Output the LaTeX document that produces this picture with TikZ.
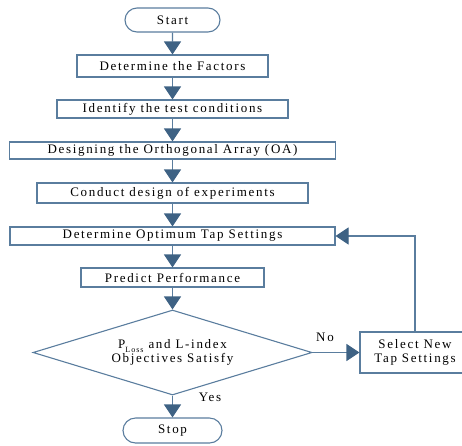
\documentclass[tikz,border=0pt]{standalone}
\usepackage{fontspec}
\setmainfont{Liberation Serif}[LetterSpace=13]
\usetikzlibrary{arrows.meta,shapes.geometric,shapes.misc}
\definecolor{bline}{HTML}{5A7D9E}
\definecolor{bhead}{HTML}{3E6284}
\begin{document}
\begin{tikzpicture}[x=1pt,y=-1pt,
  txt/.style={font=\fontsize{13}{14}\selectfont},
  box/.style={txt,draw=bline,line width=1.1pt,rectangle,inner sep=0pt},
  term/.style={txt,draw=bline,line width=1.1pt,rounded rectangle,inner sep=0pt},
  dec/.style={txt,draw=bline,line width=1.1pt,diamond,inner sep=0pt,align=center},
  flow/.style={draw=bline,line width=1.1pt,-{Triangle[width=17pt,length=13pt,fill=bhead,color=bhead]}},
  lbl/.style={txt,inner sep=0pt}]
\useasboundingbox (0,0) rectangle (462,445);
\node[term,minimum width=95pt,minimum height=24pt] (start) at (172.5,20) {Start};
\node[box,minimum width=191pt,minimum height=22pt] (f1) at (172.5,66) {Determine the Factors};
\node[box,minimum width=231pt,minimum height=18pt] (f2) at (172.5,109) {Identify the test conditions};
\node[box,minimum width=326pt,minimum height=17pt] (f3) at (172.5,150.5) {Designing the Orthogonal Array (OA)};
\node[box,minimum width=271pt,minimum height=20pt] (f4) at (172.5,193) {Conduct design of experiments};
\node[box,minimum width=325pt,minimum height=18pt] (f5) at (172.5,236) {Determine Optimum Tap Settings};
\node[box,minimum width=183pt,minimum height=19pt] (f6) at (172.5,277.5) {Predict Performance};
\node[dec,minimum width=279pt,minimum height=85pt,aspect=3.28] (dia) at (172.5,352.5) {P\raisebox{-0.6ex}{\fontsize{8}{8}\selectfont Loss} and L-index\\Objectives Satisfy};
\node[box,minimum width=110pt,minimum height=41pt,align=center] (sel) at (415,352.5) {Select New\\Tap Settings};
\node[term,minimum width=99pt,minimum height=25pt] (stop) at (172.5,430.5) {Stop};
\draw[flow] (start) -- (f1);
\draw[flow] (f1) -- (f2);
\draw[flow] (f2) -- (f3);
\draw[flow] (f3) -- (f4);
\draw[flow] (f4) -- (f5);
\draw[flow] (f5) -- (f6);
\draw[flow] (f6) -- (dia);
\draw[flow] (dia) -- (stop);
\draw[flow] (dia.east) -- (sel.west);
\draw[flow] (sel.north) |- (f5.east);
\node[lbl] (no) at (325,337) {No};
\node[lbl] (yes) at (210,397) {Yes};
\end{tikzpicture}
\end{document}
